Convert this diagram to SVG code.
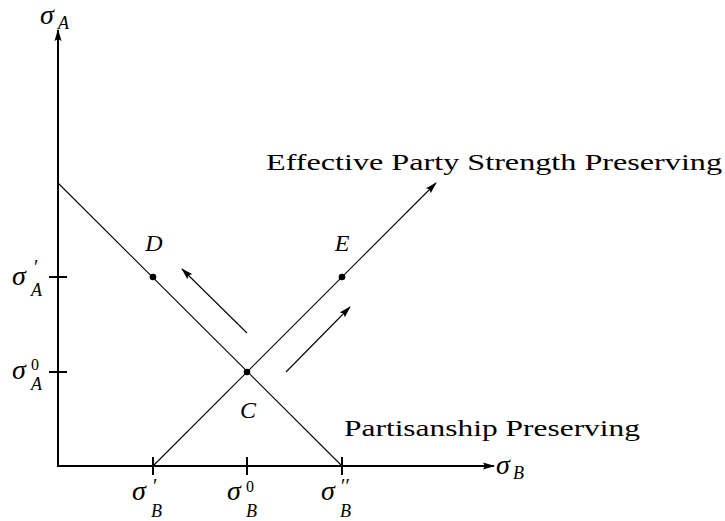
<svg xmlns="http://www.w3.org/2000/svg" width="725" height="521" viewBox="0 0 725 521">
<style>
.ax{stroke:#000;stroke-width:2;fill:none}
.ln{stroke:#000;stroke-width:1.1;fill:none}
.t{font-family:"Liberation Serif","Times New Roman",serif;fill:#000}
.m{font-family:"Liberation Serif","Times New Roman",serif;font-style:italic;fill:#000}
.lbl{font-size:24px}
.sym{font-size:28px}
.sub{font-size:18px}
.sup{font-size:16px}
.pr{font-size:20px}
</style>
<defs>
<marker id="ah" viewBox="0 0 12 8" refX="11" refY="4" markerWidth="12" markerHeight="8" markerUnits="userSpaceOnUse" orient="auto">
<path d="M0,0.5 L12,4 L0,7.5 L2,4 Z" fill="#000"/>
</marker>
</defs>
<g id="axes">
<line class="ax" x1="58" y1="467" x2="58" y2="30" marker-end="url(#ah)"/>
<line class="ax" x1="57" y1="466" x2="494" y2="466" marker-end="url(#ah)"/>
<line class="ax" x1="153" y1="457" x2="153" y2="475"/>
<line class="ax" x1="247" y1="457" x2="247" y2="475"/>
<line class="ax" x1="342" y1="457" x2="342" y2="475"/>
<line class="ax" x1="49" y1="277" x2="67" y2="277"/>
<line class="ax" x1="49" y1="372" x2="67" y2="372"/>
</g>
<g id="connectors">
<line class="ln" x1="58" y1="183" x2="342" y2="466"/>
<line class="ln" x1="153" y1="466" x2="436" y2="183" marker-end="url(#ah)"/>
<line class="ln" x1="247" y1="333" x2="182" y2="269" marker-end="url(#ah)"/>
<line class="ln" x1="286" y1="372" x2="350" y2="307" marker-end="url(#ah)"/>
</g>
<g id="D"><circle cx="153" cy="277" r="3.3"/><text class="m lbl" x="154" y="251" text-anchor="middle">D</text></g>
<g id="C"><circle cx="247" cy="372" r="3.3"/><text class="m lbl" x="248" y="418" text-anchor="middle">C</text></g>
<g id="E"><circle cx="342" cy="277" r="3.3"/><text class="m lbl" x="342" y="251" text-anchor="middle">E</text></g>
<g id="labels">
<text class="t lbl" x="266" y="170" textLength="456" lengthAdjust="spacingAndGlyphs">Effective Party Strength Preserving</text>
<text class="t lbl" x="344" y="436" textLength="296" lengthAdjust="spacingAndGlyphs">Partisanship Preserving</text>
<text class="m sym" x="40" y="24">σ</text><text class="m sub" x="58" y="29">A</text>
<text class="m sym" x="496" y="474">σ</text><text class="m sub" x="513" y="479">B</text>
<text class="m sym" x="12" y="285">σ</text><text class="t pr" x="34" y="274">′</text><text class="m sub" x="31" y="296">A</text>
<text class="m sym" x="12" y="379">σ</text><text class="t sup" x="31" y="370">0</text><text class="m sub" x="31" y="390">A</text>
<text class="m sym" x="132" y="500">σ</text><text class="t pr" x="153" y="493">′</text><text class="m sub" x="151" y="517">B</text>
<text class="m sym" x="227" y="500">σ</text><text class="t sup" x="246" y="492">0</text><text class="m sub" x="246" y="517">B</text>
<text class="m sym" x="321" y="500">σ</text><text class="t pr" x="341" y="493">′′</text><text class="m sub" x="340" y="517">B</text>
</g>
</svg>
